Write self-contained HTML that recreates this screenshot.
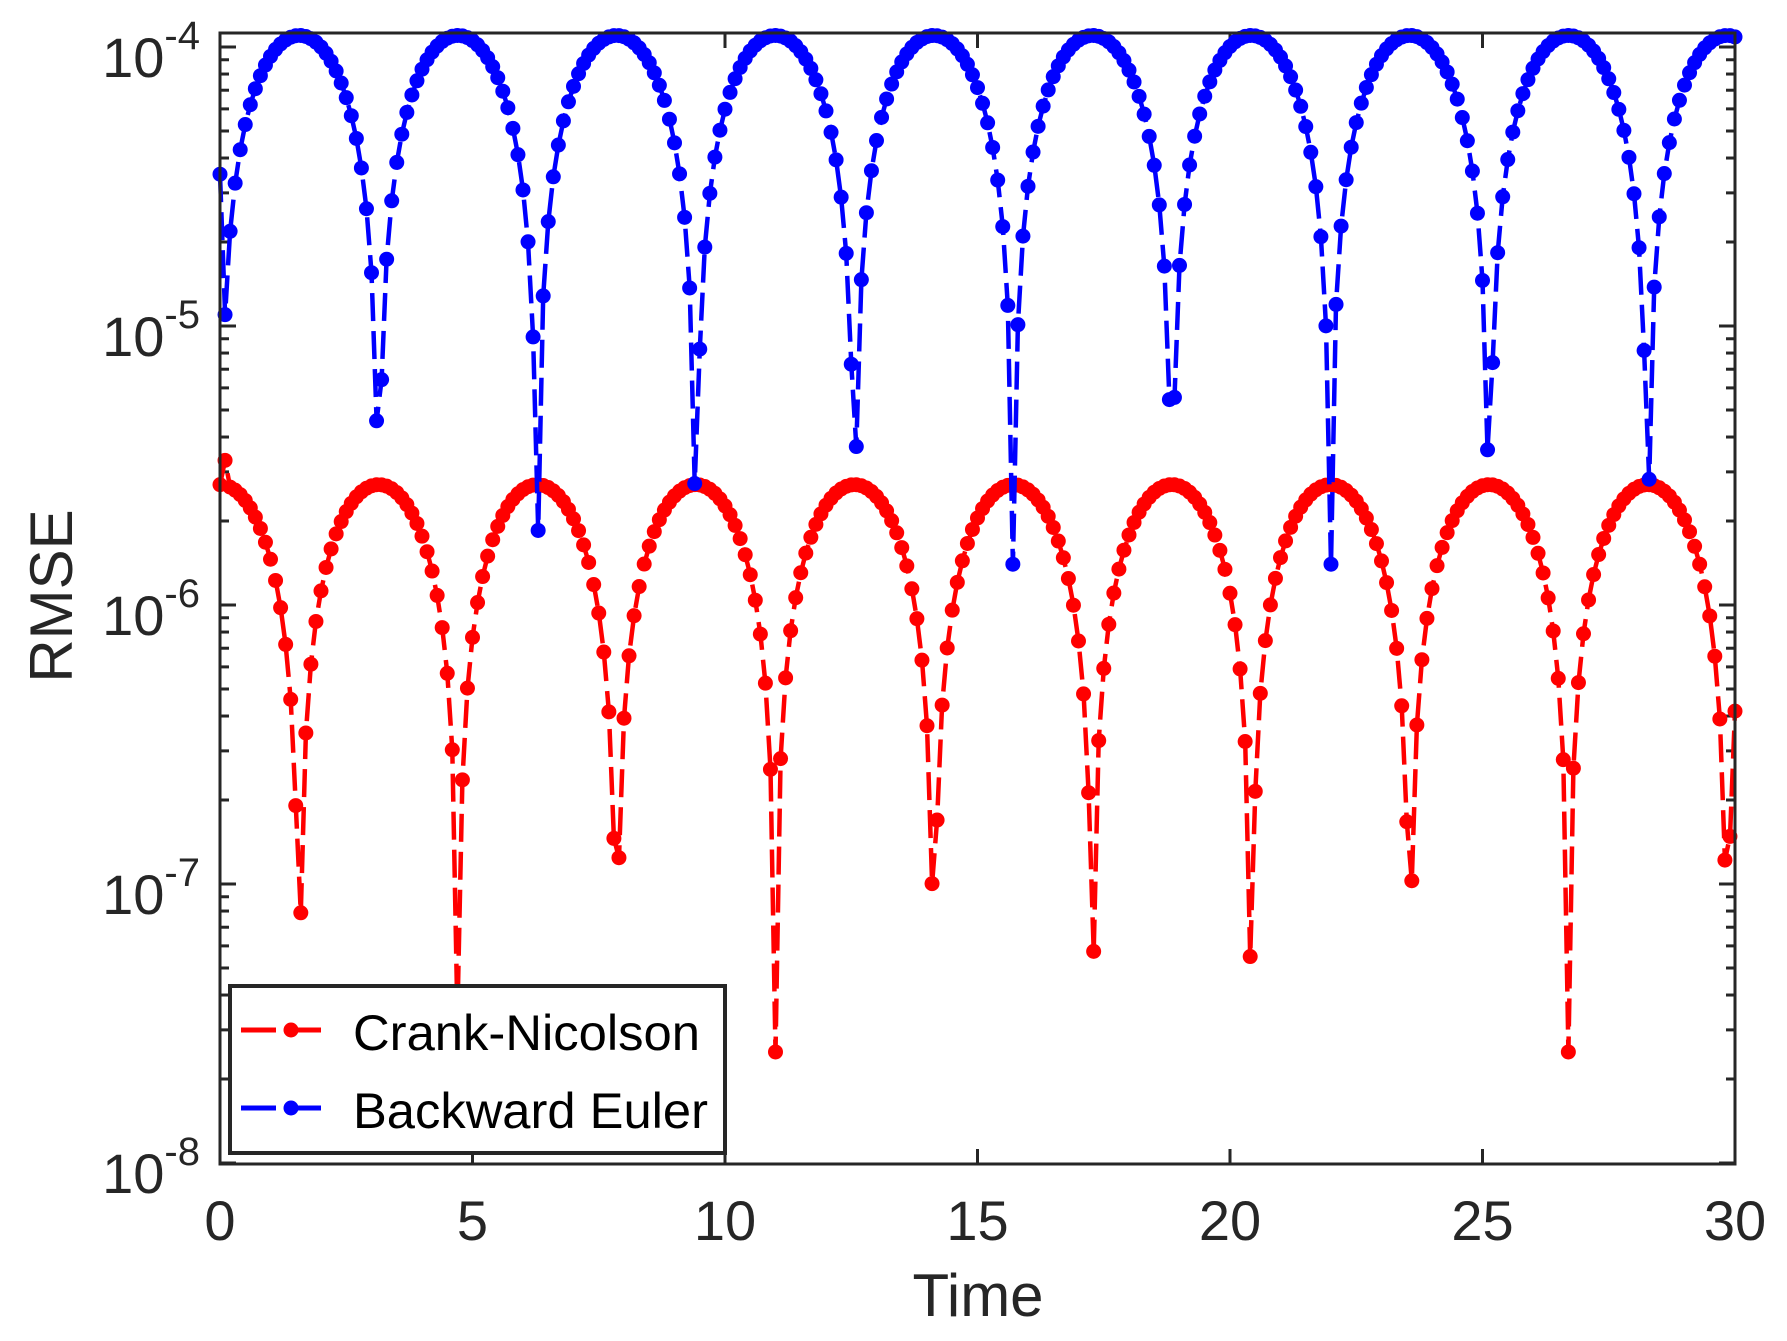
<!DOCTYPE html>
<html><head><meta charset="utf-8"><style>
body{margin:0;background:#fff;}
svg{display:block;font-family:"Liberation Sans",sans-serif;}
</style></head><body>
<svg id="s" width="1787" height="1341" viewBox="0 0 1787 1341" xmlns="http://www.w3.org/2000/svg">
<rect width="1787" height="1341" fill="#fff"/>
<g id="ticks" stroke="#262626" stroke-width="3"></g>
<g id="data"></g>
<rect x="220" y="33" width="1515" height="1131" fill="none" stroke="#262626" stroke-width="3"/>
<g id="labels" fill="#262626"></g>
<text x="978" y="1316" font-size="60" text-anchor="middle" fill="#262626">Time</text>
<text transform="translate(72,596) rotate(-90)" font-size="60" text-anchor="middle" fill="#262626">RMSE</text>
<rect x="230" y="986" width="495" height="167" fill="#fff" stroke="#262626" stroke-width="4"/>
<line x1="241" y1="1030" x2="329" y2="1030" stroke="#f00" stroke-width="5" stroke-dasharray="35,10"/>
<circle cx="291" cy="1030" r="7.5" fill="#f00"/>
<line x1="241" y1="1108" x2="329" y2="1108" stroke="#00f" stroke-width="5" stroke-dasharray="35,10"/>
<circle cx="291" cy="1108" r="7.5" fill="#00f"/>
<text x="353" y="1050" font-size="50" textLength="347" lengthAdjust="spacingAndGlyphs">Crank-Nicolson</text>
<text x="353" y="1128" font-size="50" textLength="355" lengthAdjust="spacingAndGlyphs">Backward Euler</text>
</svg>
<script>
const NS="http://www.w3.org/2000/svg";
const X=t=>220+t*1515/30, Y=v=>47+(-4-Math.log10(v))*279;
function el(p,tag,a,txt){const e=document.createElementNS(NS,tag);for(const k in a)e.setAttribute(k,a[k]);if(txt)e.textContent=txt;p.appendChild(e);return e;}
const tk=document.getElementById('ticks'),lb=document.getElementById('labels');
for(let i=0;i<=6;i++){const x=X(i*5);el(tk,'line',{x1:x,y1:1164,x2:x,y2:1149});el(tk,'line',{x1:x,y1:33,x2:x,y2:48});
 el(lb,'text',{x:x,y:1240,'font-size':56,'text-anchor':'middle'},String(i*5));}
for(let e=-8;e<=-4;e++){for(let m=1;m<=9;m++){const v=m*Math.pow(10,e);const y=Y(v);if(y<33||y>1164)continue;const L=m==1?16:9;
 el(tk,'line',{x1:220,y1:y,x2:220+L,y2:y});el(tk,'line',{x1:1735,y1:y,x2:1735-L,y2:y});}
 const y=Y(Math.pow(10,e));const t=el(lb,'text',{x:200,y:y+30,'font-size':56,'text-anchor':'end'});
 const a=document.createElementNS(NS,'tspan');a.textContent='10';t.appendChild(a);
 const b=document.createElementNS(NS,'tspan');b.setAttribute('font-size','40');b.setAttribute('dy','-28');b.textContent=String(e);t.appendChild(b);}
const d=document.getElementById('data');
function series(f,col){let pts=[];for(let i=0;i<=300;i++){const t=i*0.1;pts.push([X(t),Y(f(t,i))]);}
 el(d,'path',{d:'M'+pts.map(p=>p[0].toFixed(1)+','+p[1].toFixed(1)).join('L'),fill:'none',stroke:col,'stroke-width':4.5,'stroke-dasharray':'28,10'});
 pts.forEach(p=>el(d,'circle',{cx:p[0],cy:p[1],r:7.5,fill:col}));}
series((t,i)=>i==1?3.3e-6:Math.max(2.7e-6*Math.abs(Math.cos(t)),2.5e-8),'#f00');
series((t,i)=>i==0?3.5e-5:Math.max(1.1e-4*Math.abs(Math.sin(t)),1.4e-6),'#00f');
</script>
</body></html>
